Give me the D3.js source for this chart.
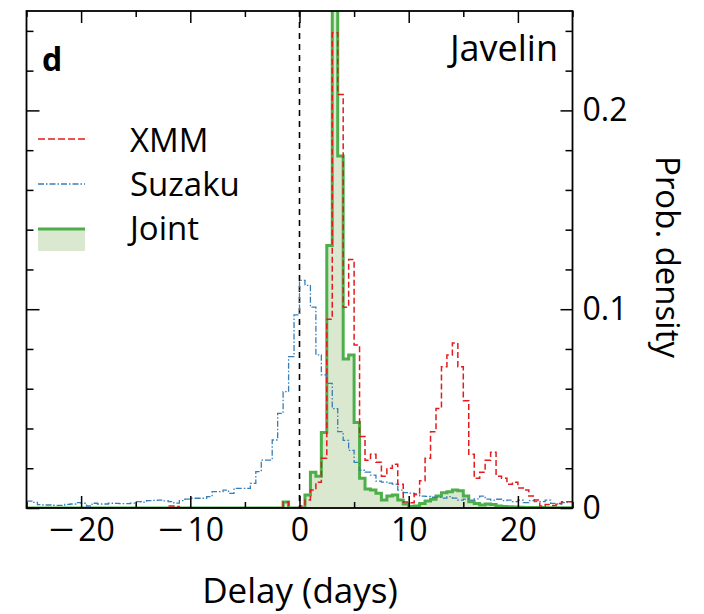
<!DOCTYPE html>
<html>
<head>
<meta charset="utf-8">
<script src="https://cdn.jsdelivr.net/npm/d3@7"></script>
<style>
  html, body { margin: 0; padding: 0; background: #fff; }
  svg { display: block; }
  text { font-family: "Open Sans", "Liberation Sans", sans-serif; fill: #000; }
</style>
</head>
<body>
<svg id="chart" width="704" height="614"></svg>
<script>
// ---- data: probability density histograms, bins of 0.5 day starting at -25 days ----
const binStart = -25;
const binWidth = 0.5;
const seriesNames = ["XMM", "Suzaku", "Joint"];

const xmm = [
  0,0,0,0,0,0,0,0,0,0,
  0,0,0,0,0,0,0,0,0,0,
  0,0,0,0,0,0,0.001,0.0008,0,0,
  0,0,0,0,0,0,0,0,0,0,
  0,0,0,0,0,0,0,0.003,0,0,
  0.001,0.004,0.009,0.013,0.025,0.095,0.239,0.208,0.101,0.125,
  0.082,0.036,0.024,0.027,0.023,0.016,0.020,0.022,0.012,0.003,
  0.0027,0.007,0.0137,0.025,0.0384,0.050,0.071,0.077,0.083,0.071,
  0.054,0.027,0.015,0.018,0.024,0.028,0.016,0.015,0.012,0.013,
  0.010,0.009,0.006,0.004,0.001,0.0017,0.0013,0.0023,0.0032,0.0032
];

const suzaku = [
  0.0035,0.0028,0.0017,0.0015,0.0015,0.0013,0.0013,0.0018,0.002,0.0027,
  0.0024,0.001,0.0024,0.002,0.002,0.0024,0.0023,0.0022,0.0022,0.0025,
  0.0032,0.003,0.0037,0.0038,0.004,0.0036,0.0032,0.0025,0.0037,0.0045,
  0.0049,0.0049,0.0049,0.0057,0.0082,0.0082,0.009,0.0074,0.0099,0.0099,
  0.0099,0.0124,0.0183,0.0241,0.0241,0.0342,0.0476,0.0585,0.0761,0.0971,
  0.1145,0.112,0.101,0.077,0.067,0.0627,0.05,0.0384,0.034,0.029,
  0.023,0.019,0.018,0.0165,0.0135,0.013,0.0125,0.012,0.009,0.0077,
  0.0075,0.0066,0.006,0.0058,0.0054,0.0054,0.005,0.0057,0.005,0.004,
  0.0045,0.004,0.0046,0.006,0.0045,0.004,0.0044,0.0037,0.004,0.0032,
  0.004,0.0027,0.0037,0.0032,0.0032,0.004,0.0023,0.002,0.0027,0.0032
];

const joint = [
  0,0,0,0,0,0,0,0,0,0,
  0,0,0,0,0,0,0,0,0,0,
  0,0,0,0,0,0,0,0,0,0,
  0,0,0,0,0,0,0,0,0,0,
  0,0,0,0,0,0,0,0.003,0,0,
  0,0.0065,0.018,0.016,0.038,0.132,0.95,0.177,0.075,0.077,
  0.043,0.015,0.0095,0.009,0.0074,0.004,0.006,0.0065,0.004,0.002,
  0.0007,0.001,0.0023,0.0035,0.0044,0.006,0.0077,0.0082,0.009,0.0087,
  0.006,0.0032,0.0023,0.0015,0.002,0.0018,0.001,0.0008,0.0006,0.0005,
  0.0004,0.0003,0.0003,0.0002,0.0002,0.0001,0.0001,0.0001,0.0001,0.0001
];

const xMajorTicks = [-20, -10, 0, 10, 20];
const xMinorTicks = [-25, -15, -5, 5, 15, 25];
const yMajorTicks = [0, 0.1, 0.2];
const yMinorTicks = [0.02, 0.04, 0.06, 0.08, 0.12, 0.14, 0.16, 0.18, 0.22, 0.24];

(function draw() {
  const svg = d3.select("#chart");
  const pLeft = 26.5, pRight = 572.5, pTop = 11, pBottom = 508;
  const x = d3.scaleLinear().domain([-25, 25]).range([pLeft, pRight]);
  const y = d3.scaleLinear().domain([0, 0.25]).range([pBottom, pTop]);

  svg.append("defs").append("clipPath").attr("id", "plotClip")
    .append("rect").attr("x", pLeft).attr("y", pTop)
    .attr("width", pRight - pLeft).attr("height", pBottom - pTop);

  function toPoints(vals) {
    const pts = vals.map((v, i) => [binStart + i * binWidth, v]);
    pts.push([binStart + vals.length * binWidth, vals[vals.length - 1]]);
    return pts;
  }

  const stepLine = d3.line().x(d => x(d[0])).y(d => y(d[1])).curve(d3.curveStepAfter);
  const stepArea = d3.area().x(d => x(d[0])).y0(y(0)).y1(d => y(d[1])).curve(d3.curveStepAfter);

  const plot = svg.append("g").attr("clip-path", "url(#plotClip)");

  const colRed = "#e41a1c", colBlue = "#377eb8", colGreen = "#4daf4a", colFill = "#d9e8cf";

  plot.append("path").datum(toPoints(joint)).attr("d", stepArea)
    .attr("fill", colFill).attr("stroke", "none");

  plot.append("line").attr("x1", x(0)).attr("x2", x(0)).attr("y1", pTop).attr("y2", pBottom)
    .attr("stroke", "#000").attr("stroke-width", 1.6).attr("stroke-dasharray", "6,5");

  plot.append("path").datum(toPoints(joint)).attr("d", stepLine)
    .attr("fill", "none").attr("stroke", colGreen).attr("stroke-width", 3).attr("stroke-linejoin", "miter");

  plot.append("path").datum(toPoints(suzaku)).attr("d", stepLine)
    .attr("fill", "none").attr("stroke", colBlue).attr("stroke-width", 1.3)
    .attr("stroke-dasharray", "6,2,1.5,2");

  plot.append("path").datum(toPoints(xmm)).attr("d", stepLine)
    .attr("fill", "none").attr("stroke", colRed).attr("stroke-width", 1.5)
    .attr("stroke-dasharray", "6,3");

  function styleAxis(g) {
    g.select(".domain").remove();
    g.selectAll(".tick line").attr("stroke", "#000").attr("stroke-width", 1.5);
    g.selectAll(".tick text").style("font-size", "32px").attr("fill", "#000");
  }

  const gxb = svg.append("g").attr("transform", `translate(0,${pBottom})`)
    .call(d3.axisBottom(x).tickValues(xMajorTicks).tickSize(-12).tickPadding(10));
  styleAxis(gxb);
  gxb.selectAll(".tick text").each(function(d) {
    const t = d3.select(this);
    t.text(null);
    if (d < 0) {
      t.append("tspan").text("\u2212").attr("textLength", 26).attr("lengthAdjust", "spacingAndGlyphs");
      t.append("tspan").attr("dx", 4).text(Math.abs(d));
    } else {
      t.append("tspan").text(d);
    }
  });
  svg.append("g").attr("transform", `translate(0,${pBottom})`)
    .call(d3.axisBottom(x).tickValues(xMinorTicks).tickSize(-6).tickFormat(""))
    .call(styleAxis);

  svg.append("g").attr("transform", `translate(0,${pTop})`)
    .call(d3.axisTop(x).tickValues(xMajorTicks).tickSize(-12).tickFormat(""))
    .call(styleAxis);
  svg.append("g").attr("transform", `translate(0,${pTop})`)
    .call(d3.axisTop(x).tickValues(xMinorTicks).tickSize(-6).tickFormat(""))
    .call(styleAxis);

  svg.append("g").attr("transform", `translate(${pRight},0)`)
    .call(d3.axisRight(y).tickValues(yMajorTicks).tickSize(-12).tickPadding(10)
      .tickFormat(d => d === 0 ? "0" : d3.format(".1f")(d)))
    .call(styleAxis);
  svg.append("g").attr("transform", `translate(${pRight},0)`)
    .call(d3.axisRight(y).tickValues(yMinorTicks).tickSize(-7).tickFormat(""))
    .call(styleAxis);

  svg.append("g").attr("transform", `translate(${pLeft},0)`)
    .call(d3.axisLeft(y).tickValues(yMajorTicks).tickSize(-13).tickFormat(""))
    .call(styleAxis);
  svg.append("g").attr("transform", `translate(${pLeft},0)`)
    .call(d3.axisLeft(y).tickValues(yMinorTicks).tickSize(-7).tickFormat(""))
    .call(styleAxis);

  svg.append("rect").attr("x", pLeft).attr("y", pTop).attr("width", pRight - pLeft).attr("height", pBottom - pTop)
    .attr("fill", "none").attr("stroke", "#000").attr("stroke-width", 1.8);

  svg.append("text").attr("x", 300).attr("y", 603).attr("text-anchor", "middle")
    .style("font-size", "35px").text("Delay (days)");
  svg.append("text").attr("transform", "translate(656,257) rotate(90)").attr("text-anchor", "middle")
    .style("font-size", "33px").text("Prob. density");
  svg.append("text").attr("x", 42).attr("y", 71).style("font-size", "32px").style("font-weight", "bold").text("d");
  svg.append("text").attr("x", 558).attr("y", 61).attr("text-anchor", "end").style("font-size", "36px").text("Javelin");

  const leg = svg.append("g");
  const legY = [139, 184, 229];
  const legTextY = [152, 196, 240];
  leg.append("line").attr("x1", 38).attr("x2", 85).attr("y1", legY[0]).attr("y2", legY[0])
    .attr("stroke", colRed).attr("stroke-width", 1.5).attr("stroke-dasharray", "7,3");
  leg.append("line").attr("x1", 38).attr("x2", 85).attr("y1", legY[1]).attr("y2", legY[1])
    .attr("stroke", colBlue).attr("stroke-width", 1.3).attr("stroke-dasharray", "6,2,1.5,2");
  leg.append("rect").attr("x", 38).attr("y", legY[2]).attr("width", 47).attr("height", 22).attr("fill", colFill);
  leg.append("line").attr("x1", 38).attr("x2", 85).attr("y1", legY[2]).attr("y2", legY[2])
    .attr("stroke", colGreen).attr("stroke-width", 3);
  seriesNames.forEach((n, i) => {
    leg.append("text").attr("x", 130).attr("y", legTextY[i]).style("font-size", "33px").text(n);
  });
})();
</script>
</body>
</html>
